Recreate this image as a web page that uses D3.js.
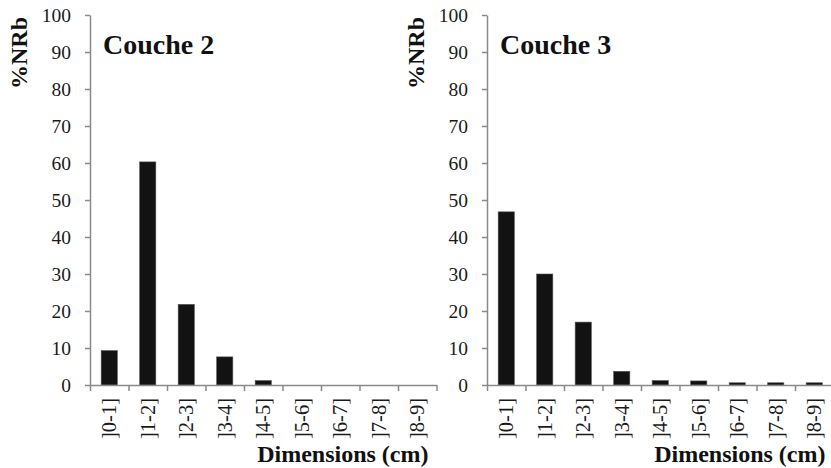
<!DOCTYPE html>
<html><head><meta charset="utf-8">
<script src="https://cdn.jsdelivr.net/npm/d3@7"></script>
<style>
html,body{margin:0;padding:0;background:#fff;}
svg{display:block;}
</style></head>
<body>
<svg id="chart" width="831" height="468"></svg>
<script>
const categories = ["]0-1]","]1-2]","]2-3]","]3-4]","]4-5]","]5-6]","]6-7]","]7-8]","]8-9]"];
const couche2 = [9.3, 60.3, 21.8, 7.6, 1.2, 0, 0, 0, 0];
const couche3 = [46.8, 30.0, 17.0, 3.7, 1.2, 1.1, 0.6, 0.6, 0.6];
const yTicks = [0,10,20,30,40,50,60,70,80,90,100];
const titles = ["Couche 2","Couche 3"];
const yLabel = "%NRb";
const xLabel = "Dimensions (cm)";

const FONT = "'Liberation Serif', 'Times New Roman', Tinos, 'DejaVu Serif', serif";
const svg = d3.select("#chart").style("font-family", FONT);
const axisColor = "#8a8a8a";

const panels = [
  {x0: 90, values: couche2, title: titles[0]},
  {x0: 487, values: couche3, title: titles[1]}
];
const yTop = 15, yBottom = 385, step = 38.5;

const y = d3.scaleLinear().domain([0,100]).range([yBottom, yTop]);

panels.forEach(p => {
  const g = svg.append("g");
  const x1 = p.x0 + step * categories.length;
  const x = d3.scaleBand().domain(categories).range([p.x0, x1]).paddingInner(0.58).paddingOuter(0.29);
  const xb = d3.scaleLinear().domain([0, categories.length]).range([p.x0, x1]);

  g.selectAll("rect.bar").data(p.values).join("rect")
    .attr("x", (d,i) => x(categories[i]))
    .attr("width", x.bandwidth())
    .attr("y", d => y(d))
    .attr("height", d => y(0) - y(d))
    .attr("fill", "#121212")
    .attr("stroke", "#555").attr("stroke-width", 0.6);

  const ya = g.append("g").attr("transform", `translate(${p.x0},0)`)
    .call(d3.axisLeft(y).tickValues(yTicks).tickSize(5).tickPadding(14).tickSizeOuter(0));
  ya.attr("font-family", null);
  ya.select(".domain").attr("stroke", axisColor).attr("stroke-width", 1.5);
  ya.selectAll(".tick line").attr("stroke", axisColor).attr("stroke-width", 1.5);
  ya.selectAll(".tick text").attr("font-size", 19.5).attr("fill", "#1a1a1a")
    .style("font-family", FONT);

  const xa = g.append("g").attr("transform", `translate(0,${yBottom})`)
    .call(d3.axisBottom(xb).tickValues(d3.range(categories.length + 1)).tickSize(6).tickFormat("").tickSizeOuter(0));
  xa.select(".domain").attr("stroke", axisColor).attr("stroke-width", 1.5);
  xa.selectAll(".tick line").attr("stroke", axisColor).attr("stroke-width", 1.5);

  const xl = g.append("g").attr("transform", `translate(0,${yBottom})`)
    .call(d3.axisBottom(x).tickSize(0).tickPadding(0));
  xl.attr("font-family", null);
  xl.select(".domain").remove();
  xl.selectAll(".tick text")
    .attr("font-size", 20.5).attr("fill", "#1a1a1a")
    .style("font-family", FONT)
    .attr("transform", "rotate(-90)")
    .attr("text-anchor", "end")
    .attr("x", -13).attr("y", 0).attr("dy", "0.35em");

  g.append("text").attr("x", p.x0 + 13).attr("y", 54)
    .style("font-family", FONT)
    .attr("font-size", 28).attr("font-weight", "bold").attr("fill", "#111").text(p.title);

  g.append("text")
    .attr("transform", `translate(${p.x0 - 63},${53}) rotate(-90)`)
    .attr("text-anchor", "middle")
    .style("font-family", FONT)
    .attr("font-size", 24).attr("font-weight", "bold").attr("fill", "#111").text(yLabel);

  g.append("text").attr("x", x1 - 8).attr("y", 462)
    .attr("text-anchor", "end")
    .style("font-family", FONT)
    .attr("font-size", 24).attr("font-weight", "bold").attr("fill", "#111").text(xLabel);
});
</script>
</body></html>
